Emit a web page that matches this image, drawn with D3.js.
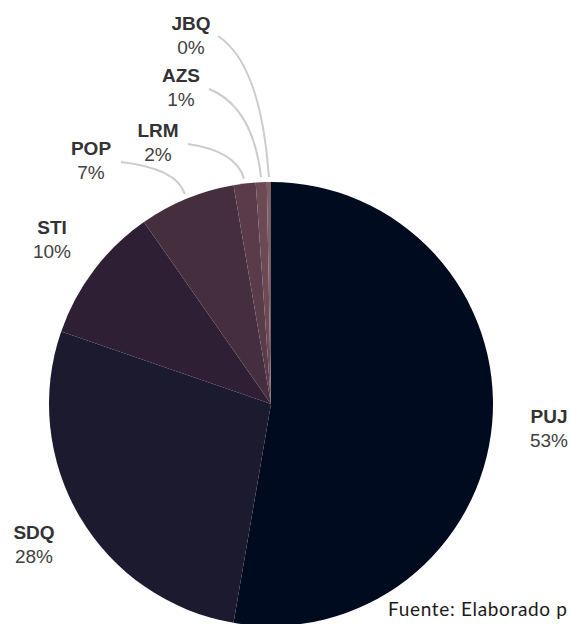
<!DOCTYPE html>
<html>
<head>
<meta charset="utf-8">
<script src="https://cdn.jsdelivr.net/npm/d3@7"></script>
<style>
  html, body { margin: 0; padding: 0; background: #fff; overflow: hidden; }
  svg { display: block; }
</style>
</head>
<body>
<script>
// Data
const categories = ["PUJ", "SDQ", "STI", "POP", "LRM", "AZS", "JBQ"];
const values = [52.7, 27.6, 10.0, 7.0, 1.6, 0.8, 0.3];
const pctLabels = ["53%", "28%", "10%", "7%", "2%", "1%", "0%"];
const colors = ["#000b20", "#1b1a2e", "#2f1f34", "#452f3f", "#5a3b4a", "#6b4a55", "#7d5c63"];
const sourceText = "Fuente: Elaborado p";

const W = 571, H = 624;
const cx = 271, cy = 404, R = 222;

// label layout (name baseline; percent sits 24px below)
const labelPos = {
  PUJ: [549, 423], SDQ: [34, 539], STI: [52, 234], POP: [91, 155],
  LRM: [158, 137], AZS: [181, 82], JBQ: [191, 30]
};
// leader line starts (for small slices)
const leaderStart = {
  POP: [121, 162], LRM: [188, 144], AZS: [209, 89], JBQ: [218, 36]
};

const svg = d3.select("body").append("svg").attr("width", W).attr("height", H);

const pie = d3.pie().value(d => d).sort(null);
const arcs = pie(values);
const arc = d3.arc().innerRadius(0).outerRadius(R);
const outer = d3.arc().innerRadius(R + 5).outerRadius(R + 5);

const g = svg.append("g").attr("transform", `translate(${cx},${cy})`);
g.selectAll("path.slice").data(arcs).join("path")
  .attr("class", "slice")
  .attr("d", arc)
  .attr("fill", (d, i) => colors[i]);

// leader lines
categories.forEach((c, i) => {
  if (!leaderStart[c]) return;
  const [ex, ey] = outer.centroid(arcs[i]);
  const x1 = ex + cx, y1 = ey + cy;
  const [x0, y0] = leaderStart[c];
  const qx = x1 - 8, qy = y0 + 0.2 * (y1 - y0);
  svg.append("path")
    .attr("d", `M${x0},${y0} Q${qx},${qy} ${x1},${y1}`)
    .attr("fill", "none")
    .attr("stroke", "#cccccc")
    .attr("stroke-width", 2);
});

// labels
categories.forEach((c, i) => {
  const [x, y] = labelPos[c];
  svg.append("text").attr("x", x).attr("y", y)
    .attr("text-anchor", "middle")
    .attr("font-family", "'Liberation Sans', Arial, sans-serif")
    .attr("font-weight", "bold").attr("font-size", 19)
    .attr("fill", "#333").text(c);
  svg.append("text").attr("x", x).attr("y", y + 24)
    .attr("text-anchor", "middle")
    .attr("font-family", "'Liberation Sans', Arial, sans-serif")
    .attr("font-size", 19)
    .attr("fill", "#404040").text(pctLabels[i]);
});

// source note
svg.append("text").attr("x", 388).attr("y", 616)
  .attr("font-family", "Lato, 'Open Sans', sans-serif")
  .attr("font-size", 19)
  .attr("textLength", 179).attr("lengthAdjust", "spacing")
  .attr("fill", "#1a1a1a")
  .text(sourceText);
</script>
</body>
</html>
